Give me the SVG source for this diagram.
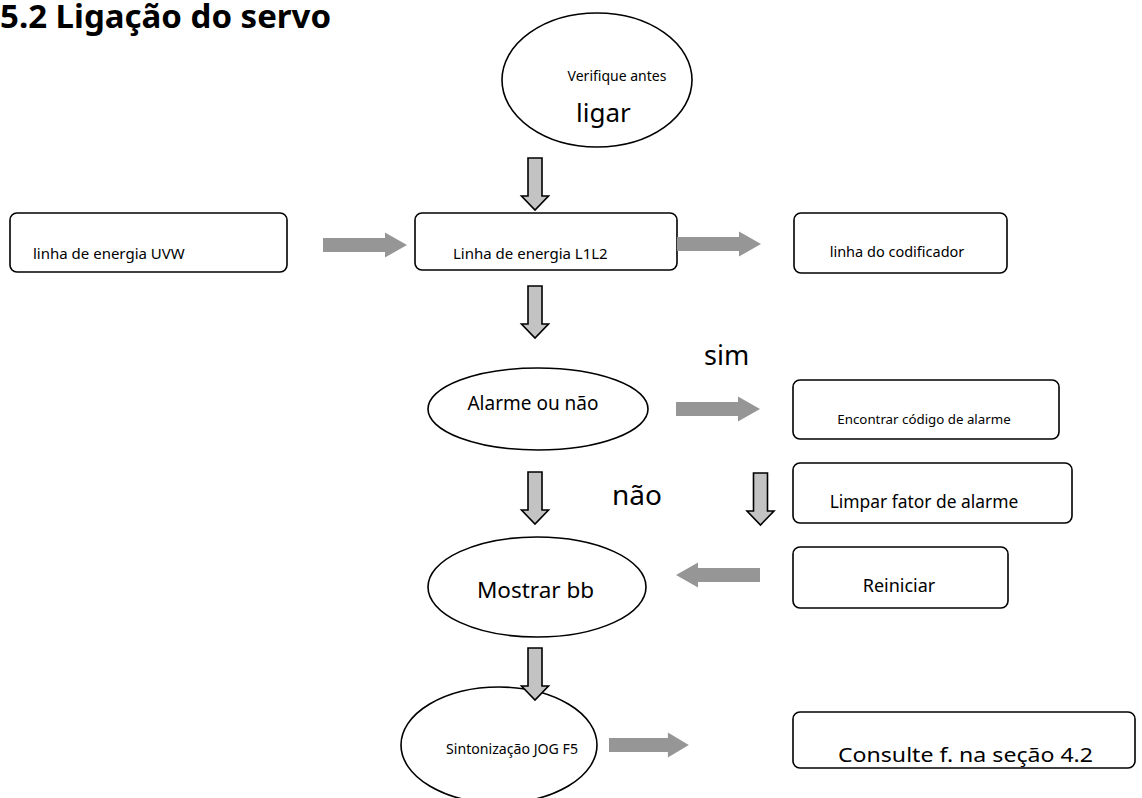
<svg xmlns="http://www.w3.org/2000/svg" width="1142" height="798" viewBox="0 0 1142 798">
  <style>
    .t { font-family: "Noto Sans", "Open Sans", "DejaVu Sans", sans-serif; fill: #000; }
    .node { fill: #fff; stroke: #000; stroke-width: 1.6; }
    .down { fill: #c3c3c3; stroke: #000; stroke-width: 1.6; stroke-linejoin: miter; }
    .side { fill: #969696; stroke: none; }
  </style>
  <defs>
    <!-- outlined down arrow, origin at the top centre of the shaft -->
    <path id="downArrow" d="M -7 0 H 7 V 38 H 13.5 L 0 52 L -13.5 38 H -7 Z"/>
    <!-- solid right-pointing arrow, 0..84 long -->
    <path id="rightArrow" d="M 0 -7 H 62 V -12.5 L 84 0 L 62 12.5 V 7 H 0 Z"/>
  </defs>

  <text class="t" x="0" y="28" font-size="33" font-weight="bold">5.2 Ligação do servo</text>

  <g id="start">
    <ellipse class="node" cx="597" cy="80" rx="95" ry="67"/>
    <text class="t" x="617" y="81" font-size="14" text-anchor="middle">Verifique antes</text>
    <text class="t" x="576" y="122" font-size="26">ligar</text>
  </g>

  <g id="uvw">
    <rect class="node" x="10" y="213" width="277" height="59" rx="7"/>
    <text class="t" x="33" y="259" font-size="15">linha de energia UVW</text>
  </g>

  <g id="l1l2">
    <rect class="node" x="415" y="213" width="262" height="57" rx="7"/>
    <text class="t" x="453" y="259" font-size="15">Linha de energia L1L2</text>
  </g>

  <g id="encoder">
    <rect class="node" x="794" y="213" width="213" height="60" rx="7"/>
    <text class="t" x="897" y="257" font-size="14.5" text-anchor="middle">linha do codificador</text>
  </g>

  <g id="alarm">
    <ellipse class="node" cx="538" cy="409" rx="110" ry="41"/>
    <text class="t" x="533" y="410" font-size="19" text-anchor="middle">Alarme ou não</text>
  </g>

  <g id="find-code">
    <rect class="node" x="793" y="380" width="266" height="59" rx="7"/>
    <text class="t" x="924" y="424" font-size="13.3" text-anchor="middle">Encontrar código de alarme</text>
  </g>

  <g id="clear">
    <rect class="node" x="793" y="463" width="279" height="60" rx="7"/>
    <text class="t" x="924" y="508" font-size="17.4" text-anchor="middle">Limpar fator de alarme</text>
  </g>

  <g id="show-bb">
    <ellipse class="node" cx="537" cy="587" rx="109" ry="50"/>
    <text class="t" x="535.5" y="598" font-size="22.5" text-anchor="middle">Mostrar bb</text>
  </g>

  <g id="restart">
    <rect class="node" x="793" y="547" width="215" height="61" rx="7"/>
    <text class="t" x="899" y="592" font-size="18" text-anchor="middle">Reiniciar</text>
  </g>

  <g id="jog">
    <ellipse class="node" cx="499" cy="745" rx="98" ry="58"/>
    <text class="t" x="512" y="754" font-size="14" text-anchor="middle" textLength="132" lengthAdjust="spacingAndGlyphs">Sintonização JOG F5</text>
  </g>

  <g id="see-section">
    <rect class="node" x="793" y="712" width="342" height="56" rx="7"/>
    <text class="t" x="838" y="762" font-size="19" textLength="255" lengthAdjust="spacingAndGlyphs">Consulte f. na seção 4.2</text>
  </g>

  <g id="connectors">
    <use href="#downArrow" class="down" x="535" y="158"/>
    <use href="#downArrow" class="down" x="535" y="286"/>
    <use href="#downArrow" class="down" x="535" y="472"/>
    <use href="#downArrow" class="down" x="760.5" y="473"/>
    <use href="#downArrow" class="down" x="535" y="648"/>

    <use href="#rightArrow" class="side" transform="translate(323 245)"/>
    <use href="#rightArrow" class="side" transform="translate(677 244)"/>
    <use href="#rightArrow" class="side" transform="translate(676 409)"/>
    <use href="#rightArrow" class="side" transform="translate(760 575) scale(-1 1)"/>
    <use href="#rightArrow" class="side" transform="translate(609 745) scale(0.95 1)"/>

    <text class="t" x="704" y="365" font-size="27">sim</text>
    <text class="t" x="612" y="505" font-size="28">não</text>
  </g>
</svg>
